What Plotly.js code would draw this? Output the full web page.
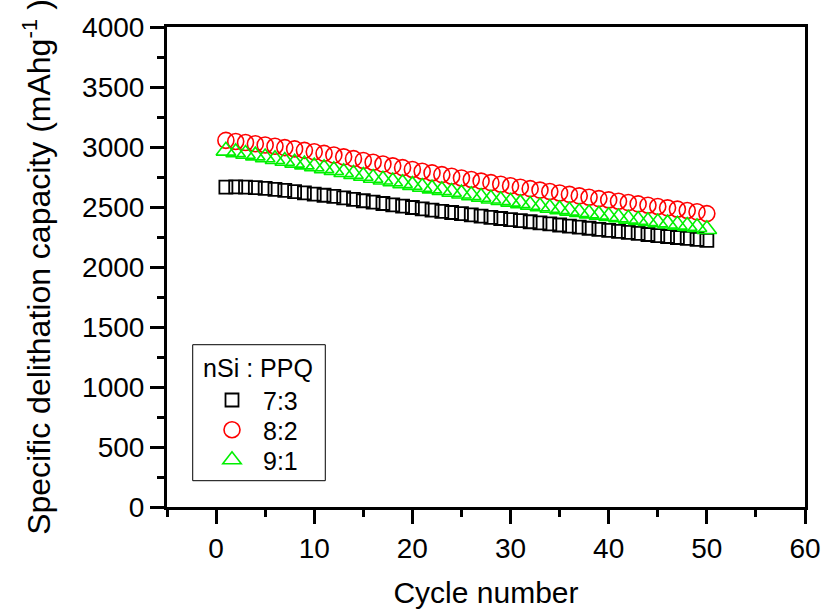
<!DOCTYPE html>
<html>
<head>
<meta charset="utf-8">
<script src="https://cdn.plot.ly/plotly-3.0.1.min.js"></script>
<style>html,body{margin:0;padding:0;background:#fff;}#chart{width:824px;height:609px;}</style>
</head>
<body>
<div id="chart"></div>
<script>
const cycles = [1,2,3,4,5,6,7,8,9,10,11,12,13,14,15,16,17,18,19,20,21,22,23,24,25,26,27,28,29,30,31,32,33,34,35,36,37,38,39,40,41,42,43,44,45,46,47,48,49,50];
const cap73 = [2665,2668,2666,2662,2655,2647,2638,2628,2618,2608,2598,2588,2576,2564,2552,2540,2529,2518,2507,2496,2485,2474,2464,2454,2444,2434,2424,2414,2404,2395,2386,2377,2368,2359,2350,2341,2332,2323,2314,2305,2297,2289,2280,2271,2262,2254,2246,2238,2230,2222];
const cap82 = [3055,3046,3037,3027,3017,3006,2995,2984,2972,2960,2947,2933,2918,2903,2888,2873,2858,2843,2828,2813,2798,2784,2770,2756,2742,2729,2716,2703,2690,2677,2665,2653,2641,2629,2617,2605,2593,2581,2570,2559,2548,2537,2526,2515,2504,2493,2482,2471,2460,2445];
const cap91 = [2968,2955,2942,2928,2913,2898,2883,2868,2853,2838,2822,2806,2790,2774,2758,2742,2727,2712,2697,2682,2667,2653,2639,2625,2611,2597,2583,2569,2556,2543,2530,2517,2504,2492,2480,2468,2456,2445,2434,2423,2412,2401,2391,2381,2371,2361,2351,2341,2331,2315];
const seriesNames = ['7:3','8:2','9:1'];
const legendTitle = 'nSi : PPQ';
const xTitle = 'Cycle number';
const yTitle = 'Specific delithation capacity (mAhg<sup>-1</sup> )';

const FONT = 'Liberation Sans, Arial, Helvetica, sans-serif';
const traces = [
  {x: cycles, y: cap73, name: seriesNames[0], type: 'scatter', mode: 'markers', legend: 'legend',
   marker: {symbol: 'square-open', size: 13, color: '#000000', line: {width: 1.8, color: '#000000'}}},
  {x: cycles, y: cap82, name: seriesNames[1], type: 'scatter', mode: 'markers', legend: 'legend2',
   marker: {symbol: 'circle-open', size: 16, color: '#ff0000', line: {width: 1.6, color: '#ff0000'}}},
  {x: cycles, y: cap91, name: seriesNames[2], type: 'scatter', mode: 'markers', legend: 'legend3',
   marker: {symbol: 'triangle-up-open', size: 17, color: '#00f000', line: {width: 1.6, color: '#00f000'}}}
];

const axisCommon = {
  showline: true, linewidth: 3, linecolor: '#000', mirror: true,
  ticks: 'outside', ticklen: 14, tickwidth: 3, tickcolor: '#000',
  showgrid: false, zeroline: false,
  tickfont: {family: FONT, size: 28, color: '#000'}
};

const legendCommon = {
  x: 0.0533, xanchor: 'left', borderwidth: 0, bgcolor: 'rgba(0,0,0,0)',
  font: {family: FONT, size: 25, color: '#000'}, itemwidth: 52
};

const layout = {
  width: 824, height: 609,
  margin: {l: 167, r: 19, t: 27, b: 102},
  paper_bgcolor: '#fff', plot_bgcolor: '#fff',
  font: {family: FONT, color: '#000'},
  showlegend: true,
  xaxis: Object.assign({}, axisCommon, {
    range: [-5, 60], tick0: 0, dtick: 10, autorange: false,
    minor: {ticks: 'outside', ticklen: 7, tickwidth: 3, tickcolor: '#000', dtick: 5, tick0: 0, showgrid: false},
    title: {text: xTitle, font: {family: FONT, size: 30, color: '#000'}, standoff: 22}
  }),
  yaxis: Object.assign({}, axisCommon, {
    range: [0, 4000], tick0: 0, dtick: 500, autorange: false,
    minor: {ticks: 'outside', ticklen: 7, tickwidth: 3, tickcolor: '#000', dtick: 250, tick0: 0, showgrid: false},
    title: {text: yTitle, font: {family: FONT, size: 32, color: '#000'}, standoff: 22}
  }),
  shapes: [
    {type: 'rect', xref: 'paper', yref: 'paper', x0: 0.0403, x1: 0.2481, y0: 0.0548, y1: 0.3381,
     line: {color: '#000', width: 1}, fillcolor: 'rgba(0,0,0,0)', layer: 'above'}
  ],
  legend: Object.assign({}, legendCommon, {
    y: 0.338, yanchor: 'top',
    title: {text: legendTitle, side: 'top center', font: {family: FONT, size: 25, color: '#000'}}
  }),
  legend2: Object.assign({}, legendCommon, {y: 0.1604, yanchor: 'middle'}),
  legend3: Object.assign({}, legendCommon, {y: 0.0979, yanchor: 'middle'})
};

Plotly.newPlot('chart', traces, layout, {displayModeBar: false, staticPlot: true});
</script>
</body>
</html>
